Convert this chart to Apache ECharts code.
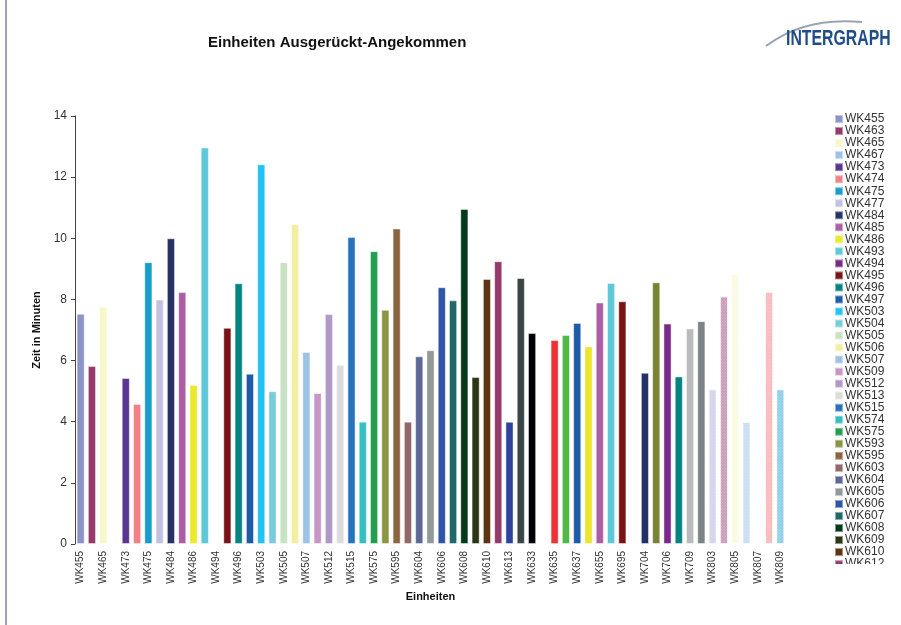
<!DOCTYPE html>
<html>
<head>
<meta charset="utf-8">
<script src="https://cdn.jsdelivr.net/npm/echarts@6/dist/echarts.min.js"></script>
<style>
html,body{margin:0;padding:0;background:#fff;}
#c{width:901px;height:625px;}
</style>
</head>
<body>
<div id="c"></div>
<script>
const categories = ['WK455','WK463','WK465','WK467','WK473','WK474','WK475','WK477','WK484','WK485',
  'WK486','WK493','WK494','WK495','WK496','WK497','WK503','WK504','WK505','WK506',
  'WK507','WK509','WK512','WK513','WK515','WK574','WK575','WK593','WK595','WK603',
  'WK604','WK605','WK606','WK607','WK608','WK609','WK610','WK612','WK613','WK630',
  'WK633','WK634','WK635','WK636','WK637','WK650','WK655','WK690','WK695','WK701',
  'WK704','WK705','WK706','WK708','WK709','WK801','WK803','WK804','WK805','WK806',
  'WK807','WK808','WK809'];
const values = [7.53,5.82,7.76,0,5.43,4.58,9.22,8.0,10.0,8.24,
  5.2,12.97,0,7.07,8.53,5.57,12.42,5.0,9.22,10.46,
  6.28,4.94,7.52,5.86,10.04,4.0,9.58,7.66,10.32,4.0,
  6.14,6.34,8.4,7.97,10.96,5.46,8.67,9.25,4.0,8.7,
  6.9,0,6.67,6.84,7.23,6.46,7.9,8.54,7.94,0,
  5.6,8.56,7.21,5.48,7.05,7.29,5.06,8.1,8.83,3.99,
  0,8.25,5.06];
const yTicks = {min:0, max:14, interval:2};

const colors = ['#8b93c8','#953a6a','#f8f7c8','#9cc3e8','#5b3594','#f38085','#189ccb','#c3c1e0','#283266','#ad5da4',
  '#ece82a','#5fc8d8','#7b2a8a','#7a1317','#048482','#1d5aa8','#22c3f2','#79ccdc','#c8e2c4','#f2f0a0',
  '#9ac3e6','#c896c4','#b098c8','#dcdcdc','#2874bc','#34c0c0','#22a050','#8a9444','#8c6440','#926868',
  '#5e6898','#939898','#3054a8','#216868','#04391a','#2c3514','#5e3412','#953a6a','#2e449c','#394645',
  '#020205','#f2b8c6','#ee3132','#52b948','#1e5aa8','#ede42c','#ad5da4','#5ec8d8','#7a1317','#7b2a8a',
  '#263066','#7a8334','#7c2a8a','#048482','#b8babc','#7d8284','#d2d2ec','#c89ab8','#fbfae0','#c8dcf2',
  '#eeeeee','#f8b8bc','#8ccde6'];
const hatchedFrom = 56;

const chart = echarts.init(document.getElementById('c'), null, {renderer:'canvas'});
const FONT = 'Liberation Sans, Arial, sans-serif';

const series = categories.map((name, i) => ({
  name: name,
  type: 'bar',
  stack: 'all',
  barWidth: '72%',
  data: values.map((v, j) => (j === i ? v : '-')),
  itemStyle: Object.assign({color: colors[i], borderColor: 'rgba(255,255,255,0.45)', borderWidth: 1},
    i >= hatchedFrom ? {decal: {symbol: 'rect', symbolSize: 1, dashArrayX: [1, 1], dashArrayY: [1, 1], rotation: 0.785, color: 'rgba(255,255,255,0.35)'}} : {})
}));

chart.setOption({
  animation: false,
  backgroundColor: '#ffffff',
  title: {
    text: 'Einheiten Ausgerückt-Angekommen',
    left: 203, top: 30,
    textStyle: {fontFamily: FONT, fontSize: 15, fontWeight: 'bold', color: '#111'}
  },
  legend: {
    type: 'plain',
    orient: 'vertical',
    left: 829, top: 108,
    height: 2000,
    itemWidth: 8, itemHeight: 8, itemGap: 0,
    icon: 'rect',
    textStyle: {fontFamily: FONT, fontSize: 12, color: '#333', lineHeight: 12.03, padding: [0,0,0,-3]},
    data: categories
  },
  grid: {left: 75, right: 115, top: 116, bottom: 81, containLabel: false},
  xAxis: {
    type: 'category',
    data: categories,
    name: 'Einheiten',
    nameLocation: 'middle',
    nameGap: 44,
    nameTextStyle: {fontFamily: FONT, fontSize: 11, fontWeight: 'bold', color: '#111'},
    axisLine: {show: false},
    axisTick: {show: false},
    axisLabel: {rotate: 90, interval: 1, fontFamily: FONT, fontSize: 10, color: '#333', margin: 7}
  },
  yAxis: {
    type: 'value',
    min: yTicks.min, max: yTicks.max, interval: yTicks.interval,
    name: 'Zeit in Minuten',
    nameLocation: 'middle',
    nameGap: 31,
    nameTextStyle: {fontFamily: FONT, fontSize: 11, fontWeight: 'bold', color: '#111'},
    axisLine: {show: true, lineStyle: {color: '#444', width: 1}},
    axisTick: {show: true, length: 4, lineStyle: {color: '#444'}},
    splitLine: {show: false},
    axisLabel: {fontFamily: FONT, fontSize: 12, color: '#333', margin: 8}
  },
  graphic: [
    {type: 'rect', z: 200, shape: {x: 820, y: 564, width: 81, height: 61}, style: {fill: '#ffffff'}},
    {type: 'line', z: 200, shape: {x1: 6, y1: 0, x2: 6, y2: 625}, style: {stroke: '#a89cb8', lineWidth: 2}},
    {type: 'bezierCurve', z: 200, shape: {x1: 766, y1: 46, cpx1: 790, cpy1: 28, x2: 862, y2: 22, cpx2: 820, cpy2: 18},
      style: {stroke: '#9aa4b0', lineWidth: 2, fill: null}},
    {type: 'text', z: 201, x: 786, y: 28, scaleX: 0.72, scaleY: 1,
      style: {text: 'INTERGRAPH', fontFamily: FONT, fontSize: 22, fontWeight: 'bold', fill: '#1f4d8c'}}
  ],
  series: series
});
</script>
</body>
</html>
